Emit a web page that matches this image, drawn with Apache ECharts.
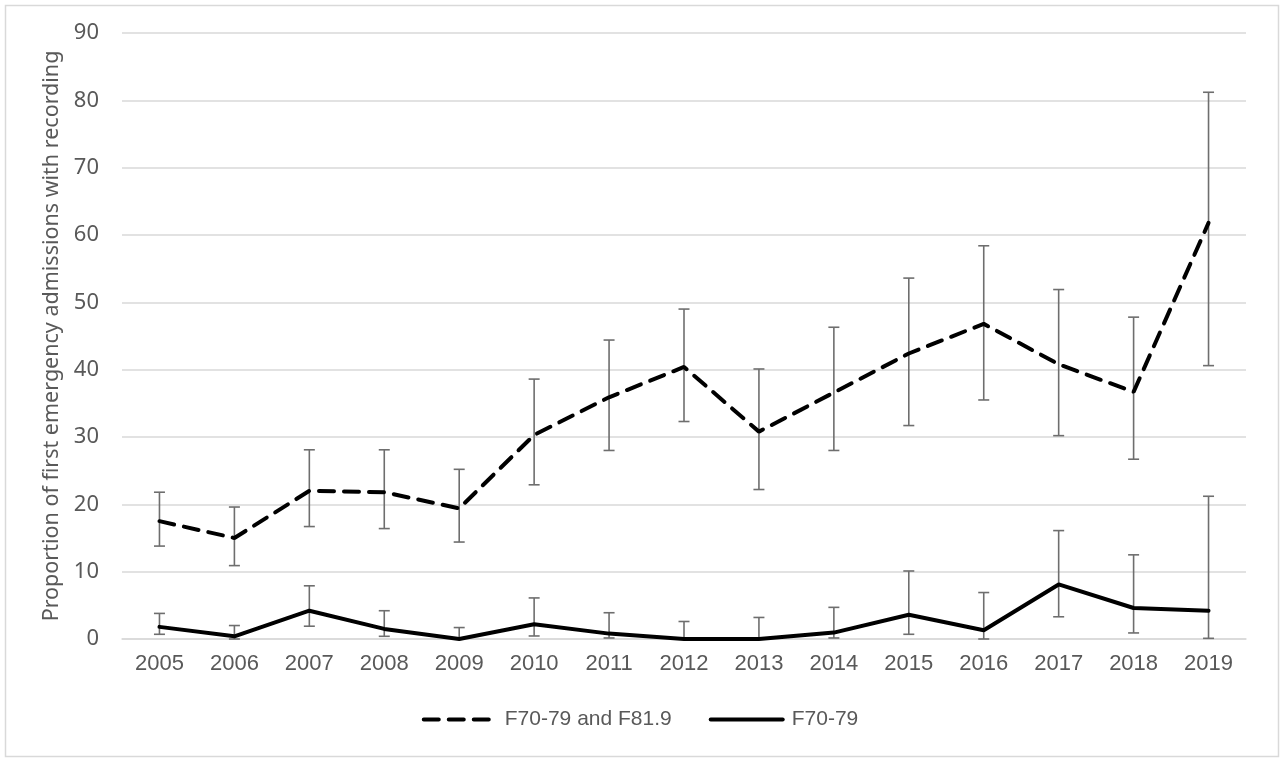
<!DOCTYPE html>
<html>
<head>
<meta charset="utf-8">
<script src="https://cdn.jsdelivr.net/npm/echarts@6/dist/echarts.min.js"></script>
<style>
html,body{margin:0;padding:0;background:#fff;}
#main{width:1280px;height:758px;}
</style>
</head>
<body>
<div id="main"></div>
<script>
const years = ['2005','2006','2007','2008','2009','2010','2011','2012','2013','2014','2015','2016','2017','2018','2019'];
const yTicks = [0,10,20,30,40,50,60,70,80,90];

const nameA = 'F70-79 and F81.9';
const valuesA = [17.5, 15.0, 22.0, 21.8, 19.4, 30.3, 35.9, 40.4, 30.8, 36.6, 42.4, 46.8, 40.8, 36.7, 61.8];
const lowerA  = [13.8, 10.9, 16.7, 16.4, 14.4, 22.9, 28.0, 32.3, 22.2, 28.0, 31.7, 35.5, 30.2, 26.7, 40.6];
const upperA  = [21.8, 19.6, 28.1, 28.1, 25.2, 38.6, 44.4, 49.0, 40.1, 46.3, 53.6, 58.4, 51.9, 47.8, 81.2];

const nameB = 'F70-79';
const valuesB = [1.8, 0.4, 4.2, 1.5, 0.0, 2.2, 0.8, 0.0, 0.0, 0.95, 3.6, 1.3, 8.1, 4.6, 4.2];
const lowerB  = [0.7, 0.0, 1.9, 0.4, 0.0, 0.45, 0.15, 0.0, 0.0, 0.15, 0.7, 0.0, 3.3, 0.9, 0.1];
const upperB  = [3.8, 2.0, 7.9, 4.2, 1.7, 6.1, 3.9, 2.6, 3.2, 4.7, 10.1, 6.9, 16.1, 12.5, 21.2];

const yName = 'Proportion of first emergency admissions with recording';

function errData(lo, hi) { return lo.map((v, i) => [i, v, hi[i]]); }

function renderErr(params, api) {
  const i = api.value(0);
  const lo = api.coord([i, api.value(1)]);
  const hi = api.coord([i, api.value(2)]);
  const hw = 5.5;
  const style = { stroke: '#6e6e6e', lineWidth: 1.6, fill: null };
  return {
    type: 'group',
    children: [
      { type: 'line', shape: { x1: lo[0], y1: lo[1], x2: hi[0], y2: hi[1] }, style },
      { type: 'line', shape: { x1: hi[0] - hw, y1: hi[1], x2: hi[0] + hw, y2: hi[1] }, style },
      { type: 'line', shape: { x1: lo[0] - hw, y1: lo[1], x2: lo[0] + hw, y2: lo[1] }, style }
    ]
  };
}

const chart = echarts.init(document.getElementById('main'), null, { renderer: 'canvas' });
chart.setOption({
  animation: false,
  backgroundColor: '#ffffff',
  graphic: [{
    type: 'rect', left: 3, top: 3, silent: true,
    shape: { width: 1273, height: 751 },
    style: { fill: null, stroke: '#d9d9d9', lineWidth: 1.5 }
  }],
  grid: { left: 122, right: 34, top: 33, bottom: 119, containLabel: false },
  legend: {
    data: [nameA, nameB],
    top: 704,
    left: 'center',
    itemWidth: 72,
    itemHeight: 14,
    itemGap: 37,
    itemStyle: { opacity: 0 },
    lineStyle: { width: 4, cap: 'round' },
    textStyle: { color: '#595959', fontSize: 21, fontFamily: 'Liberation Sans', padding: [0, 0, 0, 4] }
  },
  xAxis: {
    type: 'category',
    data: years,
    boundaryGap: true,
    axisLine: { show: true, lineStyle: { color: '#d9d9d9', width: 1.5 } },
    axisTick: { show: false },
    axisLabel: { color: '#595959', fontSize: 22, fontFamily: 'Liberation Sans', margin: 14 },
    splitLine: { show: false }
  },
  yAxis: {
    type: 'value',
    min: yTicks[0],
    max: yTicks[yTicks.length - 1],
    interval: yTicks[1] - yTicks[0],
    name: yName,
    nameLocation: 'middle',
    nameGap: 56,
    nameTextStyle: { color: '#595959', fontSize: 21.5, fontFamily: 'Noto Sans' },
    axisLine: { show: false },
    axisTick: { show: false },
    axisLabel: { color: '#595959', fontSize: 22, fontFamily: 'Noto Sans', margin: 23 },
    splitLine: { show: true, lineStyle: { color: '#d9d9d9', width: 1.5 } }
  },
  series: [
    {
      type: 'custom', name: 'errA', renderItem: renderErr, data: errData(lowerA, upperA),
      encode: { x: 0, y: [1, 2] }, z: 1, silent: true
    },
    {
      type: 'custom', name: 'errB', renderItem: renderErr, data: errData(lowerB, upperB),
      encode: { x: 0, y: [1, 2] }, z: 1, silent: true
    },
    {
      type: 'line', name: nameA, data: valuesA, symbol: 'none', z: 3,
      itemStyle: { color: '#000' },
      lineStyle: { color: '#000', width: 4, type: [15, 10], cap: 'round' }
    },
    {
      type: 'line', name: nameB, data: valuesB, symbol: 'none', z: 3,
      itemStyle: { color: '#000' },
      lineStyle: { color: '#000', width: 4, type: 'solid', cap: 'round' }
    }
  ]
});
</script>
</body>
</html>
